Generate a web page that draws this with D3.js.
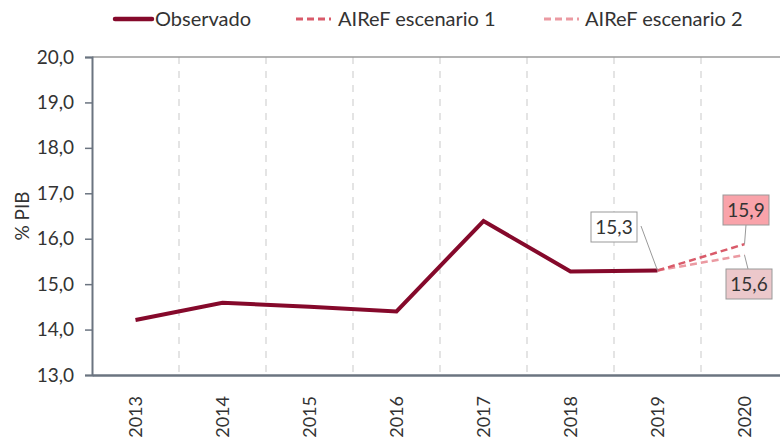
<!DOCTYPE html>
<html><head><meta charset="utf-8">
<script src="https://cdn.jsdelivr.net/npm/d3@7"></script>
<style>body{margin:0;background:#fff}svg{display:block;font-family:Lato,"Open Sans",sans-serif}</style>
</head><body>
<svg id="c" width="780" height="446"></svg>
<script>
const years = ["2013","2014","2015","2016","2017","2018","2019","2020"];
const observado = [14.21, 14.59, 14.50, 14.40, 16.39, 15.28, 15.30];
const escenario1 = [{year:"2019", value:15.30},{year:"2020", value:15.88}];
const escenario2 = [{year:"2019", value:15.30},{year:"2020", value:15.64}];
const yTicks = [13,14,15,16,17,18,19,20];
const seriesNames = ["Observado","AIReF escenario 1","AIReF escenario 2"];

const colObs = "#85092b", col1 = "#d95b6a", col2 = "#eb9aa2";
const svg = d3.select("#c");
const m = {left:92, top:57, bottom:375};
const x = d3.scaleBand().domain(years).range([m.left, m.left + 8*87]).padding(0);
const y = d3.scaleLinear().domain([13,20]).range([m.bottom, m.top]);
const fmt = v => d3.format(".1f")(v).replace(".", ",");
const cx = d => x(d) + x.bandwidth()/2;

// vertical dashed gridlines at category boundaries
svg.append("g").selectAll("line").data(years.slice(1)).join("line")
  .attr("x1", d => x(d)).attr("x2", d => x(d))
  .attr("y1", m.top).attr("y2", m.bottom)
  .attr("stroke", "#dcdcdc").attr("stroke-width", 1.5).attr("stroke-dasharray", "7,7");

// top border
svg.append("line").attr("x1", m.left).attr("x2", 780).attr("y1", y(20)).attr("y2", y(20))
  .attr("stroke", "#9a9a9a").attr("stroke-width", 1.5);

// y axis
const ya = svg.append("g").attr("transform", `translate(${m.left},0)`)
  .call(d3.axisLeft(y).tickValues(yTicks).tickFormat(fmt).tickSize(7).tickPadding(11));
ya.select(".domain").attr("stroke", "#6b7480").attr("stroke-width", 2);
ya.selectAll(".tick line").attr("stroke", "#6b7480").attr("stroke-width", 1.5);
ya.selectAll("text").attr("font-size", 19).attr("fill", "#333").attr("font-family", "Lato,sans-serif");

// x axis
const xa = svg.append("g").attr("transform", `translate(0,${m.bottom})`)
  .call(d3.axisBottom(x).tickSize(0).tickPadding(0));
xa.select(".domain").attr("stroke", "#6b7480").attr("stroke-width", 2.5);
xa.selectAll("text").attr("font-size", 18).attr("fill", "#333").attr("font-family", "Lato,sans-serif")
  .attr("transform", "rotate(-90)").attr("text-anchor", "end").attr("dy", "0.35em")
  .attr("x", -21).attr("y", 0);

// y title
svg.append("text").attr("transform", `translate(29,${(m.top+m.bottom)/2}) rotate(-90)`)
  .attr("text-anchor", "middle").attr("font-size", 19).attr("fill", "#333").text("% PIB");

// lines
const line = d3.line().x(d => cx(d.year)).y(d => y(d.value));
const obsData = observado.map((v,i) => ({year: years[i], value: v}));
svg.append("path").datum(escenario2).attr("d", line).attr("fill", "none")
  .attr("stroke", col2).attr("stroke-width", 2.5).attr("stroke-dasharray", "7,4");
svg.append("path").datum(escenario1).attr("d", line).attr("fill", "none")
  .attr("stroke", col1).attr("stroke-width", 2.5).attr("stroke-dasharray", "7,4");
svg.append("path").datum(obsData).attr("d", line).attr("fill", "none")
  .attr("stroke", colObs).attr("stroke-width", 4).attr("stroke-linejoin", "miter");

// labels with leader lines
const labels = [
  {year:"2019", value:15.30, bx:591, by:212, lx:641, ly:226, fill:"#fff"},
  {year:"2020", value:15.88, bx:723, by:195, lx:746, ly:225, fill:"#f9a3aa"},
  {year:"2020", value:15.64, bx:726, by:269, lx:748, ly:269, fill:"#ecc8cb"}
];
labels.forEach(l => {
  svg.append("line").attr("x1", l.lx).attr("y1", l.ly).attr("x2", cx(l.year)).attr("y2", y(l.value))
    .attr("stroke", "#999").attr("stroke-width", 1);
  svg.append("rect").attr("x", l.bx).attr("y", l.by).attr("width", 46).attr("height", 30)
    .attr("fill", l.fill).attr("stroke", "#999").attr("stroke-width", 1);
  svg.append("text").attr("x", l.bx + 23).attr("y", l.by + 15).attr("dy", "0.36em")
    .attr("text-anchor", "middle").attr("font-size", 19).attr("fill", "#333").text(fmt(l.value));
});

// legend
const leg = [
  {name: seriesNames[0], x1:115, x2:152, tx:155, col:colObs, w:4.5, dash:null},
  {name: seriesNames[1], x1:296, x2:331, tx:338, col:col1, w:3, dash:"7,4"},
  {name: seriesNames[2], x1:544, x2:579, tx:585, col:col2, w:3, dash:"7,4"}
];
leg.forEach(d => {
  svg.append("line").attr("x1", d.x1).attr("x2", d.x2).attr("y1", 19).attr("y2", 19)
    .attr("stroke", d.col).attr("stroke-width", d.w).attr("stroke-dasharray", d.dash)
    .attr("stroke-linecap", d.dash ? "butt" : "round");
  svg.append("text").attr("x", d.tx).attr("y", 19).attr("dy", "0.35em")
    .attr("font-size", 20).attr("fill", "#333").text(d.name);
});
</script>
</body></html>
